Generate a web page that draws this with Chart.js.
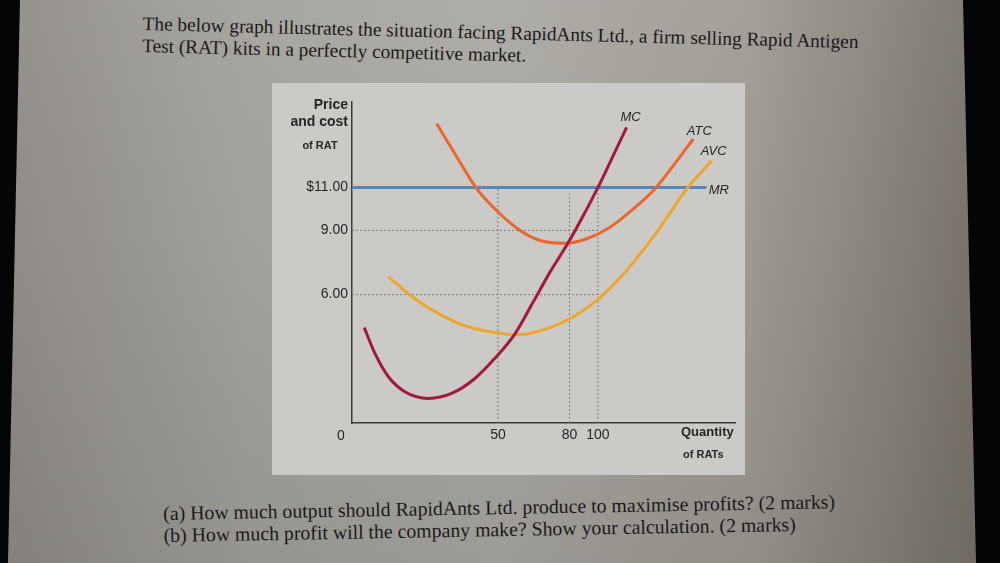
<!DOCTYPE html>
<html>
<head>
<meta charset="utf-8">
<script src="https://cdn.jsdelivr.net/npm/chart.js@4.4.1/dist/chart.umd.min.js"></script>
<style>
  html, body { margin:0; padding:0; width:1000px; height:563px; overflow:hidden; background:#050508; }
  #page { position:absolute; left:0; top:0; width:1000px; height:563px;
    background: linear-gradient(to right, #8e8b86 0%, #a3a19b 25%, #aaa8a2 50%, #9e9a93 75%, #746e65 100%);
    clip-path: polygon(20px 0, 963px 0, 976px 563px, 8px 563px); }
  #shade { position:absolute; left:0; top:0; width:1000px; height:563px;
    background: linear-gradient(to bottom, rgba(255,255,255,0.06) 0%, rgba(0,0,0,0) 40%, rgba(0,0,0,0.08) 100%); }
  .txt { position:absolute; font-family:"Liberation Serif","Times New Roman",serif; line-height:22px; color:#1a1a1a; white-space:nowrap; transform-origin:0 0; }
  #top { left:143px; top:13px; font-size:19.3px; transform:rotate(1.45deg); }
  #bottom { left:163px; top:502px; font-size:19.8px; transform:rotate(-1deg); }
  #panel { position:absolute; left:272px; top:83px; width:473px; height:392px; background:#cbcac6; }
  #wrap { position:absolute; left:272px; top:83px; width:473px; height:392px; }
</style>
</head>
<body>
<div id="page"><div id="shade"></div></div>
<div class="txt" id="top">The below graph illustrates the situation facing RapidAnts Ltd., a firm selling Rapid Antigen<br>Test (RAT) kits in a perfectly competitive market.</div>
<div id="panel"></div>
<div id="wrap"><canvas id="c" width="473" height="392"></canvas></div>
<div class="txt" id="bottom">(a) How much output should RapidAnts Ltd. produce to maximise profits? (2 marks)<br>(b) How much profit will the company make? Show your calculation. (2 marks)</div>
<script>
// ---- data (x = horizontal position along the not-to-scale quantity axis, 0..100; y = price) ----
const tickQtyLabels = ['50', '80', '100'];
const tickQtyPos = [38.1, 56.8, 64.2];
const priceTicks = [6, 9, 11];
const priceTickLabels = ['6.00', '9.00', '$11.00'];

const mcX = [3.2, 6.0, 9.5, 13.8, 19.9, 26.0, 32.1, 37.3, 42.6, 47.3, 51.7, 56.4, 60.4, 64.2, 67.8, 71.7];
const mcY = [4.46, 3.25, 2.16, 1.46, 1.15, 1.38, 2.08, 3.02, 4.18, 5.65, 7.05, 8.41, 9.70, 11.0, 12.34, 13.81];

const atcX = [22.1, 26.9, 32.6, 38.2, 43.9, 49.1, 55.6, 61.3, 67.4, 73.5, 78.7, 83.9, 89.1];
const atcY = [14.00, 12.57, 10.94, 9.85, 9.00, 8.53, 8.40, 8.61, 9.15, 10.01, 10.86, 12.03, 13.27];

const avcX = [9.5, 16.4, 23.4, 30.4, 38.2, 42.8, 47.8, 56.1, 63.9, 71.7, 79.6, 87.4, 93.9];
const avcY = [6.82, 5.81, 5.03, 4.49, 4.20, 4.12, 4.24, 4.80, 5.73, 7.13, 8.92, 10.94, 12.26];

const mrX = [0, 92.6];
const mrY = [11, 11];

const seriesNames = ['MC', 'ATC', 'AVC', 'MR'];
const yAxisTitle = ['Price', 'and cost', 'of RAT'];
const xAxisTitle = ['Quantity', 'of RATs'];

const pts = (xs, ys) => xs.map((x, i) => ({ x: x, y: ys[i] }));
const guide = (a, b) => [a, b];

const dotted = { borderColor: '#7a7a78', borderWidth: 1, borderDash: [2, 2], pointRadius: 0, fill: false, tension: 0 };
const curve = { borderWidth: 3, pointRadius: 0, fill: false, cubicInterpolationMode: 'monotone' };

const datasets = [
  Object.assign({ label: seriesNames[0], data: pts(mcX, mcY), borderColor: '#a11a3a' }, curve),
  Object.assign({ label: seriesNames[1], data: pts(atcX, atcY), borderColor: '#e8672e' }, curve),
  Object.assign({ label: seriesNames[2], data: pts(avcX, avcY), borderColor: '#eea52c' }, curve),
  Object.assign({ label: seriesNames[3], data: pts(mrX, mrY), borderColor: '#5585bd' }, curve, { cubicInterpolationMode: 'default', tension: 0 }),
  // dotted guide lines
  Object.assign({ label: 'g9', data: guide({ x: 0, y: priceTicks[1] }, { x: tickQtyPos[2], y: priceTicks[1] }) }, dotted),
  Object.assign({ label: 'g6', data: guide({ x: 0, y: priceTicks[0] }, { x: tickQtyPos[2], y: priceTicks[0] }) }, dotted),
  Object.assign({ label: 'v50', data: guide({ x: tickQtyPos[0], y: 0 }, { x: tickQtyPos[0], y: priceTicks[2] }) }, dotted),
  Object.assign({ label: 'v80', data: guide({ x: tickQtyPos[1], y: 0 }, { x: tickQtyPos[1], y: 10.7 }) }, dotted),
  Object.assign({ label: 'v100', data: guide({ x: tickQtyPos[2], y: 0 }, { x: tickQtyPos[2], y: priceTicks[2] }) }, dotted)
];

const textPlugin = {
  id: 'texts',
  afterDraw(chart) {
    const ctx = chart.ctx, xs = chart.scales.x, ys = chart.scales.y;
    ctx.save();
    ctx.fillStyle = '#262626';
    ctx.textBaseline = 'middle';
    // axis titles
    ctx.textAlign = 'right';
    ctx.font = 'bold 14px "Liberation Sans", Arial, sans-serif';
    ctx.fillText(yAxisTitle[0], xs.left - 4, 22);
    ctx.fillText(yAxisTitle[1], xs.left - 4, 39);
    ctx.textAlign = 'center';
    ctx.font = 'bold 11px "Liberation Sans", Arial, sans-serif';
    ctx.fillText(yAxisTitle[2], xs.left - 32, 63);
    ctx.textAlign = 'left';
    ctx.font = 'bold 13px "Liberation Sans", Arial, sans-serif';
    ctx.fillText(xAxisTitle[0], xs.right - 54, ys.bottom + 9);
    ctx.font = 'bold 11px "Liberation Sans", Arial, sans-serif';
    ctx.fillText(xAxisTitle[1], xs.right - 52, ys.bottom + 32);
    // origin zero
    ctx.textAlign = 'center';
    ctx.font = '14px "Liberation Sans", Arial, sans-serif';
    ctx.fillText('0', xs.getPixelForValue(0) - 11, ys.getPixelForValue(0) + 13);
    // curve labels near the end of each line
    ctx.font = 'italic 13px "Liberation Sans", Arial, sans-serif';
    const ends = [[mcX, mcY, 4, -10, 'center'], [atcX, atcY, 6, -8, 'center'], [avcX, avcY, 2, -9, 'center'], [mrX, mrY, 2, 3, 'left']];
    ends.forEach((e, i) => {
      const n = e[0].length - 1;
      ctx.textAlign = e[4];
      ctx.fillText(seriesNames[i], xs.getPixelForValue(e[0][n]) + e[2], ys.getPixelForValue(e[1][n]) + e[3]);
    });
    ctx.restore();
  }
};

new Chart(document.getElementById('c'), {
  type: 'line',
  data: { datasets: datasets },
  plugins: [textPlugin],
  options: {
    responsive: false,
    animation: false,
    layout: { padding: { left: 0, right: 10, top: 19, bottom: 22 } },
    plugins: { legend: { display: false }, tooltip: { enabled: false } },
    scales: {
      x: {
        type: 'linear', min: 0, max: 100,
        grid: { display: false, drawTicks: false },
        border: { display: true, color: '#3a3a3a', width: 1.5 },
        afterBuildTicks: s => { s.ticks = tickQtyPos.map(v => ({ value: v })); },
        afterFit: s => { s.height = 30; },
        ticks: {
          autoSkip: false, maxRotation: 0, padding: 4, color: '#262626',
          font: { family: '"Liberation Sans", Arial, sans-serif', size: 14 },
          callback: (v) => { const i = tickQtyPos.indexOf(v); return i >= 0 ? tickQtyLabels[i] : ''; }
        }
      },
      y: {
        type: 'linear', min: 0, max: 15,
        grid: { display: false, drawTicks: false },
        border: { display: true, color: '#3a3a3a', width: 1.5 },
        afterBuildTicks: s => { s.ticks = priceTicks.map(v => ({ value: v })); },
        afterFit: s => { s.width = 80; },
        ticks: {
          autoSkip: false, padding: 4, color: '#262626',
          font: { family: '"Liberation Sans", Arial, sans-serif', size: 14 },
          callback: (v) => { const i = priceTicks.indexOf(v); return i >= 0 ? priceTickLabels[i] : ''; }
        }
      }
    }
  }
});
</script>
</body>
</html>
